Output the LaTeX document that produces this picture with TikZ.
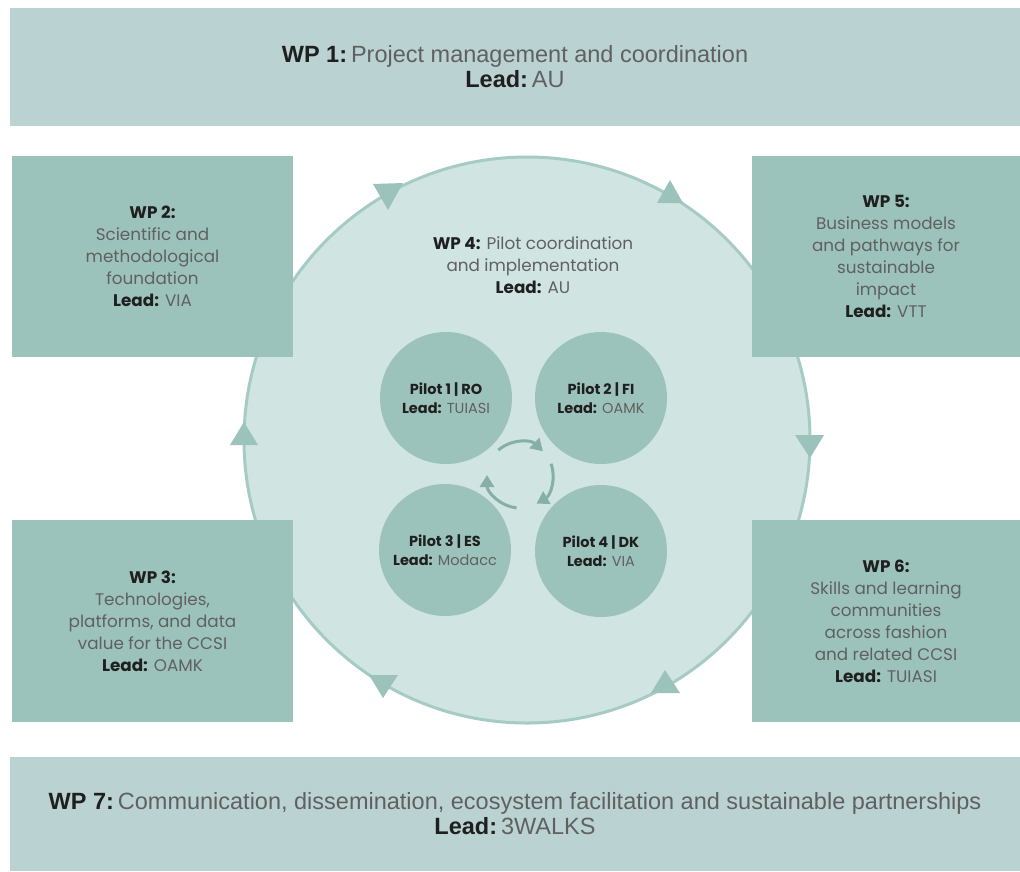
\documentclass[tikz,border=0pt]{standalone}
\usepackage{fontspec}
\setmainfont{Poppins}
\newfontfamily\barfont{Liberation Sans}
\usetikzlibrary{arrows.meta}
\definecolor{barfill}{HTML}{BAD3D2}
\definecolor{boxfill}{HTML}{9CC3BB}
\definecolor{ringfill}{HTML}{D0E5E2}
\definecolor{ringline}{HTML}{A6CBC5}
\definecolor{pilotfill}{HTML}{9CC3BB}
\definecolor{cyc}{HTML}{86AFA7}
\definecolor{tridark}{HTML}{9CC3BB}
\definecolor{tdark}{HTML}{1F1F1F}
\definecolor{tgray}{HTML}{606060}
\newcommand{\wpb}[1]{{\bfseries\color{tdark}#1}}
\begin{document}
\begin{tikzpicture}[x=1pt,y=-1pt,
  bar/.style={rectangle, fill=barfill, inner sep=0pt, align=center, text=tgray,
    font=\barfont\fontsize{23.5}{25}\selectfont},
  wpbox/.style={rectangle, fill=boxfill, inner sep=0pt, align=center, text=tgray,
    font=\fontsize{16.8}{22}\selectfont},
  pilot/.style={circle, fill=pilotfill, minimum size=132pt, inner sep=0pt, align=center,
    text=tgray, font=\fontsize{14.5}{19}\selectfont},
  ringstyle/.style={circle, fill=ringfill, draw=ringline, line width=3pt, minimum size=566pt, inner sep=0pt},
  cycarrow/.style={draw=cyc, line width=3pt, -{Triangle[length=12pt,width=14pt]}},
  tri/.style={fill=tridark}
]
\useasboundingbox (0,0) rectangle (1020,871);
\fill[white] (0,0) rectangle (1020,871);

% central ring
\node[ringstyle] (ring) at (527,440) {};

% top and bottom bars
\node[bar, minimum width=1010pt, minimum height=118pt] (wp1) at (515,67)
  {\wpb{WP 1:}\,Project management and coordination\\\wpb{Lead:}\,AU};
\node[bar, minimum width=1010pt, minimum height=114pt] (wp7) at (515,814)
  {\wpb{WP 7:}\,Communication, dissemination, ecosystem facilitation and sustainable partnerships\\\wpb{Lead:}\,3WALKS};

% side boxes
\node[wpbox, minimum width=281pt, minimum height=201pt] (wp2) at (152.5,256.5)
  {\wpb{WP 2:}\\Scientific and\\methodological\\foundation\\\wpb{Lead:} VIA};
\node[wpbox, minimum width=268pt, minimum height=201pt] (wp5) at (886,256.5)
  {\wpb{WP 5:}\\Business models\\and pathways for\\sustainable\\impact\\\wpb{Lead:} VTT};
\node[wpbox, minimum width=281pt, minimum height=202pt] (wp3) at (152.5,621)
  {\wpb{WP 3:}\\Technologies,\\platforms, and data\\value for the CCSI\\\wpb{Lead:} OAMK};
\node[wpbox, minimum width=268pt, minimum height=202pt] (wp6) at (886,621)
  {\wpb{WP 6:}\\Skills and learning\\communities\\across fashion\\and related CCSI\\\wpb{Lead:} TUIASI};

% WP4 label
\node[align=center, text=tgray, font=\fontsize{16.8}{22}\selectfont] (wp4) at (533,265)
  {\wpb{WP 4:} Pilot coordination\\and implementation\\\wpb{Lead:} AU};

% pilots
\node[pilot] (p1) at (446,398) {\wpb{Pilot 1 | RO}\\\wpb{Lead:} TUIASI};
\node[pilot] (p2) at (601,398) {\wpb{Pilot 2 | FI}\\\wpb{Lead:} OAMK};
\node[pilot] (p3) at (445,550) {\wpb{Pilot 3 | ES}\\\wpb{Lead:} Modacc};
\node[pilot] (p4) at (601,551) {\wpb{Pilot 4 | DK}\\\wpb{Lead:} VIA};

% cycle arrows
\coordinate (cc) at (520,475);
\draw[cycarrow] ([shift={(-131:33)}]cc) arc[start angle=-131, end angle=-46, radius=33];
\draw[cycarrow] ([shift={(-20:33)}]cc) arc[start angle=-20, end angle=60, radius=33];
\draw[cycarrow] ([shift={(96:33)}]cc) arc[start angle=96, end angle=180, radius=33];

% ring arrowheads
\fill[tri] (373,184) -- (403,183) -- (388,210) -- cycle;
\fill[tri] (670,180) -- (683,203) -- (657,203) -- cycle;
\fill[tri] (795,435) -- (824,435) -- (810,458) -- cycle;
\fill[tri] (665,670) -- (680,693) -- (651,693) -- cycle;
\fill[tri] (369,675) -- (398,675) -- (383,698) -- cycle;
\fill[tri] (244,422) -- (258,445) -- (230,445) -- cycle;
\end{tikzpicture}
\end{document}
